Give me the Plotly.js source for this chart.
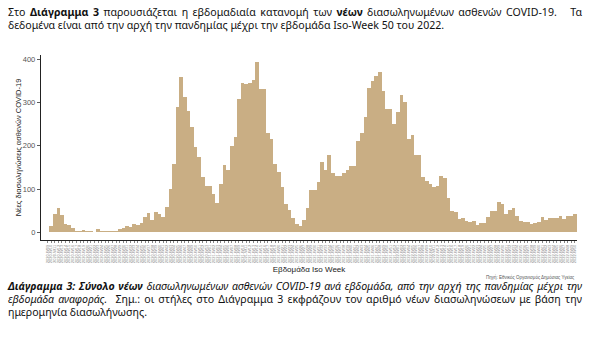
<!DOCTYPE html>
<html>
<head>
<meta charset="utf-8">
<script src="https://cdn.plot.ly/plotly-3.0.1.min.js"></script>
<style>
  html, body { margin: 0; padding: 0; background: #fff; }
  #wrap { position: relative; width: 600px; height: 352px; overflow: hidden; }
  #chart { position: absolute; left: 0; top: 0; width: 600px; height: 352px; }
  .para { position: absolute; left: 8px; width: 574px; font-family: "Noto Sans", sans-serif; font-size: 10.6px; line-height: 12.8px; color: #111; z-index: 5; pointer-events: none; }
  .line { white-space: nowrap; }
  .just { text-align: justify; text-align-last: justify; }
</style>
</head>
<body>
<div id="wrap">
  <div id="chart"></div>
  <div class="para" id="intro" style="top:6px;">
    <div class="line just">Στο <b>Διάγραμμα 3</b> παρουσιάζεται η εβδομαδιαία κατανομή των <b>νέων</b> διασωληνωμένων ασθενών COVID-19.&nbsp;&nbsp; Τα</div>
    <div class="line">δεδομένα είναι από την αρχή την πανδημίας μέχρι την εβδομάδα Iso-Week 50 του 2022.</div>
  </div>
  <div class="para" id="caption" style="top:280px;">
    <div class="line just"><b><i>Διάγραμμα 3: Σύνολο νέων</i></b> <i>διασωληνωμένων ασθενών COVID-19 ανά εβδομάδα, από την αρχή της πανδημίας μέχρι την</i></div>
    <div class="line just"><i>εβδομάδα αναφοράς.</i>&nbsp; Σημ.: οι στήλες στο Διάγραμμα 3 εκφράζουν τον αριθμό νέων διασωληνώσεων με βάση την</div>
    <div class="line">ημερομηνία διασωλήνωσης.</div>
  </div>
</div>
<script>
// ISO weeks, 2020-W09 .. 2022-W50
const weeks = [
"2020-W09","2020-W10","2020-W11","2020-W12","2020-W13","2020-W14","2020-W15","2020-W16","2020-W17","2020-W18",
"2020-W19","2020-W20","2020-W21","2020-W22","2020-W23","2020-W24","2020-W25","2020-W26","2020-W27","2020-W28",
"2020-W29","2020-W30","2020-W31","2020-W32","2020-W33","2020-W34","2020-W35","2020-W36","2020-W37","2020-W38",
"2020-W39","2020-W40","2020-W41","2020-W42","2020-W43","2020-W44","2020-W45","2020-W46","2020-W47","2020-W48",
"2020-W49","2020-W50","2020-W51","2020-W52","2020-W53",
"2021-W01","2021-W02","2021-W03","2021-W04","2021-W05","2021-W06","2021-W07","2021-W08","2021-W09","2021-W10",
"2021-W11","2021-W12","2021-W13","2021-W14","2021-W15","2021-W16","2021-W17","2021-W18","2021-W19","2021-W20",
"2021-W21","2021-W22","2021-W23","2021-W24","2021-W25","2021-W26","2021-W27","2021-W28","2021-W29","2021-W30",
"2021-W31","2021-W32","2021-W33","2021-W34","2021-W35","2021-W36","2021-W37","2021-W38","2021-W39","2021-W40",
"2021-W41","2021-W42","2021-W43","2021-W44","2021-W45","2021-W46","2021-W47","2021-W48","2021-W49","2021-W50",
"2021-W51","2021-W52",
"2022-W01","2022-W02","2022-W03","2022-W04","2022-W05","2022-W06","2022-W07","2022-W08","2022-W09","2022-W10",
"2022-W11","2022-W12","2022-W13","2022-W14","2022-W15","2022-W16","2022-W17","2022-W18","2022-W19","2022-W20",
"2022-W21","2022-W22","2022-W23","2022-W24","2022-W25","2022-W26","2022-W27","2022-W28","2022-W29","2022-W30",
"2022-W31","2022-W32","2022-W33","2022-W34","2022-W35","2022-W36","2022-W37","2022-W38","2022-W39","2022-W40",
"2022-W41","2022-W42","2022-W43","2022-W44","2022-W45","2022-W46","2022-W47","2022-W48","2022-W49","2022-W50"
];

// New intubated COVID-19 patients per week
const newIntubations = [
1,14,42,55,41,19,18,10,4,4,
5,4,3,1,8,2,3,3,3,2,
7,11,14,12,19,17,21,36,45,28,
47,42,35,58,100,158,289,358,313,280,
244,198,173,127,108,106,88,68,112,155,
144,199,221,309,344,342,344,352,393,332,
332,230,215,158,140,105,65,51,32,19,
15,28,55,98,98,117,163,144,178,136,
131,131,136,144,152,152,211,229,267,333,
349,360,371,326,285,285,250,279,316,302,
215,225,178,178,128,119,112,104,106,130,
125,80,50,47,30,33,26,23,26,16,
21,22,35,49,49,70,65,43,52,55,
37,27,24,23,19,22,23,36,29,33,
33,33,37,31,37,38,43
];

const yTicks = [0, 100, 200, 300, 400];

const trace = {
  type: 'bar',
  x: weeks,
  y: newIntubations,
  marker: { color: '#C9AE84', line: { width: 0 } },
  hoverinfo: 'x+y'
};

const layout = {
  width: 600, height: 352,
  margin: { l: 41, r: 23, t: 55, b: 112 },
  paper_bgcolor: '#ffffff',
  plot_bgcolor: '#ffffff',
  bargap: 0,
  showlegend: false,
  font: { family: 'Liberation Sans, Arial, sans-serif', color: '#333' },
  xaxis: {
    type: 'category',
    range: [-1.8, 146.58],
    tickmode: 'linear', tick0: 0, dtick: 1,
    tickangle: -90,
    tickfont: { size: 4, color: '#8a8a8a' },
    ticks: 'outside', ticklen: 2, tickwidth: 0.6, tickcolor: '#333',
    showline: true, linecolor: '#222', linewidth: 1.2,
    showgrid: false, zeroline: false,
    title: { text: 'Εβδομάδα Iso Week', font: { size: 8, color: '#222' }, standoff: 4 }
  },
  yaxis: {
    range: [-17.8, 409.5],
    tickmode: 'array', tickvals: yTicks, ticktext: yTicks.map(String),
    tickfont: { size: 7.5, color: '#555' },
    ticks: 'outside', ticklen: 3, tickwidth: 0.8, tickcolor: '#333',
    showline: true, linecolor: '#222', linewidth: 1.2,
    showgrid: false, zeroline: false,
    title: { text: 'Νέες διασωληνώσεις ασθενών COVID-19', font: { size: 7.5, color: '#222' }, standoff: 0 }
  },
  annotations: [
    {
      xref: 'paper', yref: 'paper', x: 1, y: -0.2, xanchor: 'right', yanchor: 'middle',
      text: 'Πηγή: Εθνικός Οργανισμός Δημόσιας Υγείας', showarrow: false,
      font: { size: 4.5, color: '#555' }
    }
  ]
};

Plotly.newPlot('chart', [trace], layout, { displayModeBar: false, staticPlot: true });
</script>
</body>
</html>
